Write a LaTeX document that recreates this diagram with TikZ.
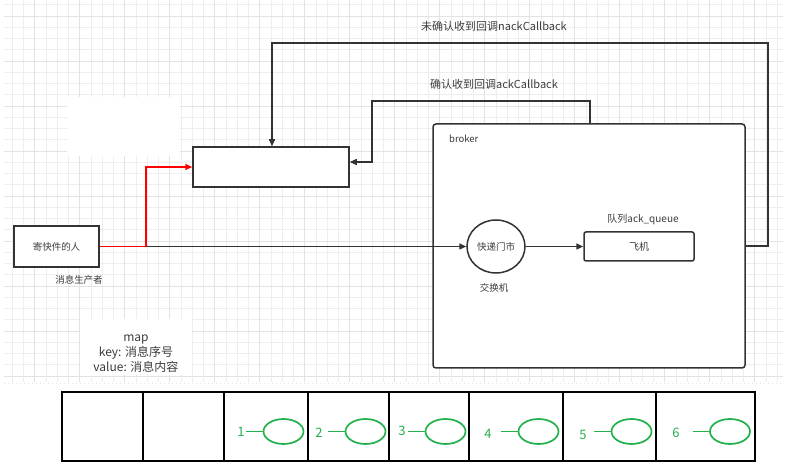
\documentclass[tikz,border=0pt]{standalone}
\usepackage{fontspec}
\setmainfont{Noto Sans CJK SC}
\usetikzlibrary{arrows.meta,shapes.geometric}
\definecolor{ln}{HTML}{333333}
\definecolor{txt}{HTML}{3C3C3C}
\definecolor{grn}{HTML}{22B14C}
\definecolor{gminor}{HTML}{EEEEEE}
\definecolor{gmajor}{HTML}{E3E3E3}
\tikzset{
  gridminor/.style={draw=gminor, line width=0.7pt},
  gridmajor/.style={draw=gmajor, line width=0.9pt},
  box/.style={draw=ln, line width=1.5pt, fill=white, inner sep=0pt},
  conn/.style={draw=ln, line width=1.5pt, -{Triangle[length=7pt,width=6pt]}},
  lbl/.style={text=txt, font=\fontsize{9.5}{11}\selectfont, inner sep=0pt},
  toplbl/.style={text=txt, font=\fontsize{11}{13}\selectfont, inner sep=0pt},
  cell/.style={draw=black, line width=1.8pt, minimum height=69pt, inner sep=0pt},
  gell/.style={ellipse, draw=grn, line width=1.7pt, minimum width=40pt, minimum height=25pt, inner sep=0pt},
  gnum/.style={text=grn, font=\fontsize{13}{15}\selectfont, inner sep=0pt},
  gline/.style={draw=grn, line width=1.7pt}
}
\begin{document}
\begin{tikzpicture}[x=1pt,y=-1pt]
\useasboundingbox (0,0) rectangle (788,473);
\fill[white] (0,0) rectangle (788,473);
% grid
\begin{scope}
\clip (4,0) rectangle (783,382);
\foreach \i in {0,...,70} \draw[gridminor] ({1+11.25*\i},0) -- ++(0,382);
\foreach \i in {0,...,34} \draw[gridminor] (0,{4.75+11.25*\i}) -- ++(783,0);
\foreach \i in {0,...,17} \draw[gridmajor] ({34.7+45*\i},0) -- ++(0,382);
\foreach \i in {0,...,8} \draw[gridmajor] (0,{16+45*\i}) -- ++(783,0);
\end{scope}
\draw[gmajor, line width=0.8pt, dash pattern=on 1pt off 3pt] (4,383) -- (783,383);
% white patches
\fill[white] (67,97) rectangle (180,156);
\fill[white] (80,319) rectangle (192,375);

% broker
\node[box, rounded corners=3pt, minimum width=312pt, minimum height=244pt] (broker) at (589,246) {};
\node[lbl, anchor=west] (brokerlbl) at (449,139) {broker};

% main nodes
\node[box, minimum width=156pt, minimum height=40pt] (boxA) at (271,167) {};
\node[box, minimum width=85pt, minimum height=41pt, font=\fontsize{9.5}{11}\selectfont, text=txt] (sender) at (56.5,246.5) {寄快件的人};
\node[lbl] (senderlbl) at (79,280) {消息生产者};
\node[box, ellipse, minimum width=58pt, minimum height=53pt, font=\fontsize{9.5}{11}\selectfont, text=txt] (exch) at (496,246.5) {快递门市};
\node[lbl] (exchlbl) at (494,288) {交换机};
\node[box, rounded corners=2pt, minimum width=110pt, minimum height=29pt, font=\fontsize{10}{12}\selectfont, text=txt] (queue) at (639,246.5) {飞机};
\node[lbl, font=\fontsize{10}{12}\selectfont] (queuelbl) at (643,219) {队列ack\_queue};

% labels on top
\node[toplbl] (nacklbl) at (494,26) {未确认收到回调nackCallback};
\node[toplbl] (acklbl) at (494,84) {确认收到回调ackCallback};

% map text
\node[text=txt, font=\fontsize{12}{15}\selectfont, align=center, inner sep=0pt] (maptxt) at (136,354) {map\\key: 消息序号\\value: 消息内容};

% connectors
\coordinate (jr) at (146,246.5);
\draw[conn] (jr) -- (exch.west);
\draw[draw=red, line width=1.5pt, -{Triangle[length=7pt,width=6pt]}] (sender.east) -- (jr) |- (boxA.west);
\draw[conn] (exch.east) -- (queue.west);

\coordinate (n1) at (768,43);
\coordinate (n2) at (272,43);
\draw[conn] (broker.east) -| (n1) -- (n2) -- (n2 |- boxA.north);

\coordinate (a1) at (590,101);
\coordinate (a2) at (372,101);
\coordinate (a3) at (372,162);
\draw[conn] (a1 |- broker.north) -- (a1) -- (a2) -- (a3) -- (a3 -| boxA.east);

% bottom table
\node[cell, minimum width=81pt] (c1) at (102.5,426.5) {};
\node[cell, minimum width=81pt] (c2) at (183.5,426.5) {};
\node[cell, minimum width=84pt] (c3) at (266,426.5) {};
\node[cell, minimum width=81pt] (c4) at (348.5,426.5) {};
\node[cell, minimum width=80pt] (c5) at (429,426.5) {};
\node[cell, minimum width=94pt] (c6) at (516,426.5) {};
\node[cell, minimum width=93pt] (c7) at (609.5,426.5) {};
\node[cell, minimum width=99pt] (c8) at (705.5,426.5) {};

% green items
\node[gell] (e1) at (283.5,431.5) {};
\node[gell] (e2) at (365.5,431.5) {};
\node[gell] (e3) at (445.5,431.5) {};
\node[gell] (e4) at (538.5,431.5) {};
\node[gell] (e5) at (631.5,431.5) {};
\node[gell] (e6) at (730,431.5) {};
\node[gnum] (g1) at (241,432) {1};
\node[gnum] (g2) at (319,433) {2};
\node[gnum] (g3) at (402,431) {3};
\node[gnum] (g4) at (488,434) {4};
\node[gnum] (g5) at (583,435) {5};
\node[gnum] (g6) at (676,433) {6};
\foreach \k in {1,...,6} \draw[gline] ([xshift=-16.5pt]e\k.west) -- (e\k.west);
\end{tikzpicture}
\end{document}
